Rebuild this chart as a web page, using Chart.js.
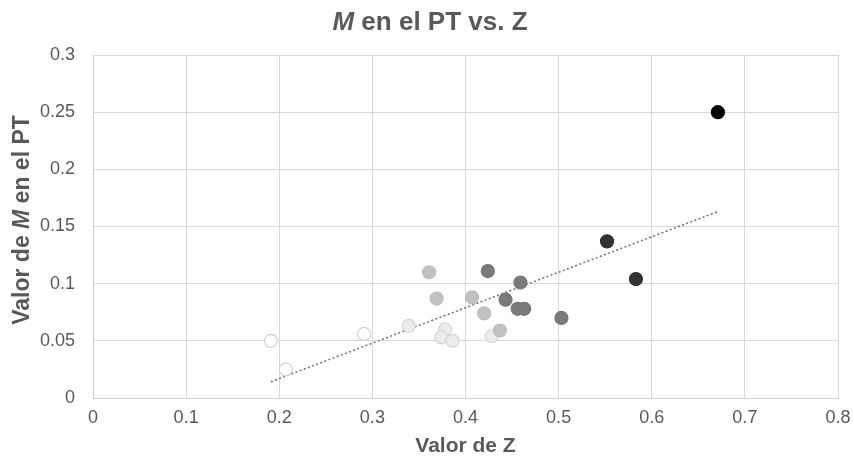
<!DOCTYPE html>
<html>
<head>
<meta charset="utf-8">
<script src="https://cdn.jsdelivr.net/npm/chart.js@4"></script>
<style>
  html, body { margin: 0; padding: 0; background: #ffffff; }
  #wrap { width: 854px; height: 460px; }
</style>
</head>
<body>
<div id="wrap"><canvas id="c" width="854" height="460"></canvas></div>
<script>
// ---- data ----
const zValues = [0.191, 0.207, 0.291, 0.339, 0.361, 0.369, 0.378, 0.374, 0.386, 0.407, 0.420,
                 0.428, 0.424, 0.437, 0.443, 0.459, 0.456, 0.463, 0.503, 0.552, 0.583, 0.671];
const mValues = [0.050, 0.025, 0.056, 0.063, 0.110, 0.087, 0.060, 0.053, 0.050, 0.088, 0.074,
                 0.054, 0.111, 0.059, 0.086, 0.101, 0.078, 0.078, 0.070, 0.137, 0.104, 0.250];
// shade group of each point (0 = lightest ... 5 = darkest)
const shadeGroup = [0, 0, 0, 1, 2, 2, 1, 1, 1, 2, 2,
                    1, 3, 2, 3, 3, 3, 3, 3, 4, 4, 5];
const xTicks = [0, 0.1, 0.2, 0.3, 0.4, 0.5, 0.6, 0.7, 0.8];
const yTicks = [0, 0.05, 0.1, 0.15, 0.2, 0.25, 0.3];

// ---- styles ----
const fillByGroup   = ['#ffffff', '#ececec', '#c2c2c2', '#7a7a7a', '#333333', '#000000'];
const borderByGroup = ['#d2d2d2', '#d6d6d6', '#bcbcbc', '#747474', '#2e2e2e', '#000000'];
const TXT = '#595959';
const FONT = "'Liberation Sans', Arial, sans-serif";

const points = zValues.map((z, i) => ({ x: z, y: mValues[i] }));

// linear trendline (least squares) spanning the data range
const n = zValues.length;
const mx = zValues.reduce((a, b) => a + b, 0) / n;
const my = mValues.reduce((a, b) => a + b, 0) / n;
let sxy = 0, sxx = 0;
for (let i = 0; i < n; i++) { sxy += (zValues[i] - mx) * (mValues[i] - my); sxx += (zValues[i] - mx) ** 2; }
const slope = sxy / sxx, icpt = my - slope * mx;
const xmin = Math.min(...zValues), xmax = Math.max(...zValues);
const trend = [{ x: xmin, y: icpt + slope * xmin }, { x: xmax, y: icpt + slope * xmax }];

function drawRich(ctx, segs, x, y) {
  let total = 0;
  segs.forEach(s => { ctx.font = s.font; s.w = ctx.measureText(s.t).width; total += s.w; });
  let cx = x - total / 2;
  segs.forEach(s => { ctx.font = s.font; ctx.fillText(s.t, cx, y); cx += s.w; });
}

const titlesPlugin = {
  id: 'richTitles',
  afterDraw(chart) {
    const ctx = chart.ctx;
    const ca = chart.chartArea;
    ctx.save();
    ctx.fillStyle = TXT;
    ctx.textBaseline = 'alphabetic';
    ctx.textAlign = 'left';
    // main title
    const tb = "bold 26px " + FONT, ti = "italic bold 26px " + FONT;
    drawRich(ctx, [{ t: 'M', font: ti }, { t: ' en el PT vs. Z', font: tb }], 430, 30);
    // x axis title
    drawRich(ctx, [{ t: 'Valor de Z', font: "bold 21px " + FONT }], (ca.left + ca.right) / 2, 452);
    // y axis title
    ctx.translate(29, 220);
    ctx.rotate(-Math.PI / 2);
    const ab = "bold 23px " + FONT, ai = "italic bold 23px " + FONT;
    drawRich(ctx, [{ t: 'Valor de ', font: ab }, { t: 'M', font: ai }, { t: ' en el PT', font: ab }], 0, 0);
    ctx.restore();
  }
};

new Chart(document.getElementById('c'), {
  type: 'scatter',
  data: {
    datasets: [
      {
        label: 'M',
        data: points,
        pointRadius: 6.5,
        pointHoverRadius: 6.5,
        pointBackgroundColor: shadeGroup.map(g => fillByGroup[g]),
        pointBorderColor: shadeGroup.map(g => borderByGroup[g]),
        pointBorderWidth: 1.2,
        order: 1
      },
      {
        type: 'line',
        label: 'Tendencia',
        data: trend,
        borderColor: '#707070',
        borderWidth: 1.5,
        borderDash: [2, 2.4],
        pointRadius: 0,
        fill: false,
        order: 2
      }
    ]
  },
  options: {
    responsive: false,
    animation: false,
    devicePixelRatio: 1,
    layout: { padding: { top: 55, right: 16, left: 0, bottom: 0 } },
    plugins: { legend: { display: false }, title: { display: false }, tooltip: { enabled: false } },
    scales: {
      x: {
        type: 'linear', min: 0, max: 0.8,
        afterFit(s) { s.height = 62; s.paddingLeft = 0; s.paddingRight = 0; },
        afterBuildTicks(s) { s.ticks = xTicks.map(v => ({ value: v })); },
        grid: { color: '#d9d9d9', lineWidth: 1, drawTicks: false },
        border: { color: '#cfcfcf', width: 1 },
        ticks: { padding: 9, color: TXT, font: { family: FONT, size: 18 }, maxRotation: 0,
                 callback: v => String(v) }
      },
      y: {
        type: 'linear', min: 0, max: 0.3,
        afterFit(s) { s.width = 93; s.paddingTop = 0; s.paddingBottom = 0; },
        afterBuildTicks(s) { s.ticks = yTicks.map(v => ({ value: v })); },
        grid: { color: '#d9d9d9', lineWidth: 1, drawTicks: false },
        border: { color: '#cfcfcf', width: 1 },
        ticks: { padding: 18, color: TXT, font: { family: FONT, size: 18 },
                 callback: v => String(v) }
      }
    }
  },
  plugins: [titlesPlugin]
});
</script>
</body>
</html>
